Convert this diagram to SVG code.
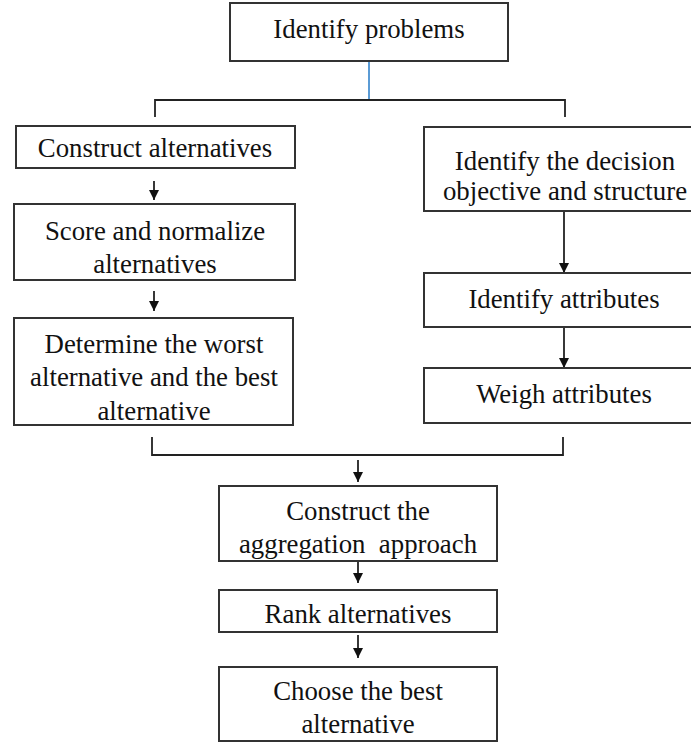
<svg xmlns="http://www.w3.org/2000/svg" width="691" height="742" viewBox="0 0 691 742">
<style>
.box{fill:#fff;stroke:#333;stroke-width:2}
.t{font-family:"Liberation Serif","Times New Roman",serif;font-size:26.8px;fill:#111;text-anchor:middle}
.c{fill:none;stroke:#222;stroke-width:1.8}
.blue{fill:none;stroke:#5b9bd5;stroke-width:2}
</style>
<defs>
<marker id="ah" viewBox="0 0 10 10" refX="10" refY="5" markerWidth="10" markerHeight="10" markerUnits="userSpaceOnUse" orient="auto">
<path d="M0,0 L10,5 L0,10 z" fill="#111"/>
</marker>
</defs>
<rect width="691" height="742" fill="#fff"/>
<g id="connectors">
<line class="blue" x1="369" y1="61" x2="369" y2="100"/>
<path class="c" d="M155,117 V100 H565 V117"/>
<line class="c" x1="154" y1="181" x2="154" y2="200" marker-end="url(#ah)"/>
<line class="c" x1="154" y1="291" x2="154" y2="311" marker-end="url(#ah)"/>
<line class="c" x1="564" y1="211" x2="564" y2="273" marker-end="url(#ah)"/>
<line class="c" x1="564" y1="327" x2="564" y2="368" marker-end="url(#ah)"/>
<path class="c" d="M152,437 V455 H563 V437"/>
<line class="c" x1="358" y1="460" x2="358" y2="482" marker-end="url(#ah)"/>
<line class="c" x1="358" y1="562" x2="358" y2="583" marker-end="url(#ah)"/>
<line class="c" x1="358" y1="635" x2="358" y2="658" marker-end="url(#ah)"/>
</g>
<g id="n1"><rect class="box" x="230" y="3" width="278" height="58"/><text class="t" x="369" y="38">Identify problems</text></g>
<g id="n2"><rect class="box" x="16" y="126" width="279" height="42"/><text class="t" x="155" y="157">Construct alternatives</text></g>
<g id="n3"><rect class="box" x="14" y="204" width="281" height="76"/><text class="t" x="155" y="240">Score and normalize</text><text class="t" x="155" y="273">alternatives</text></g>
<g id="n4"><rect class="box" x="14" y="318" width="279" height="107"/><text class="t" x="154" y="353">Determine the worst</text><text class="t" x="154" y="386">alternative and the best</text><text class="t" x="154" y="420">alternative</text></g>
<g id="n5"><rect class="box" x="424" y="127" width="281" height="84"/><text class="t" x="565" y="170">Identify the decision</text><text class="t" x="565" y="200">objective and structure</text></g>
<g id="n6"><rect class="box" x="424" y="273" width="281" height="54"/><text class="t" x="564" y="308">Identify attributes</text></g>
<g id="n7"><rect class="box" x="424" y="368" width="281" height="55"/><text class="t" x="564" y="403">Weigh attributes</text></g>
<g id="n8"><rect class="box" x="219" y="486" width="278" height="75"/><text class="t" x="358" y="520">Construct the</text><text class="t" x="358" y="553" xml:space="preserve">aggregation  approach</text></g>
<g id="n9"><rect class="box" x="219" y="590" width="278" height="42"/><text class="t" x="358" y="623">Rank alternatives</text></g>
<g id="n10"><rect class="box" x="219" y="667" width="278" height="74"/><text class="t" x="358" y="700">Choose the best</text><text class="t" x="358" y="733">alternative</text></g>
</svg>
